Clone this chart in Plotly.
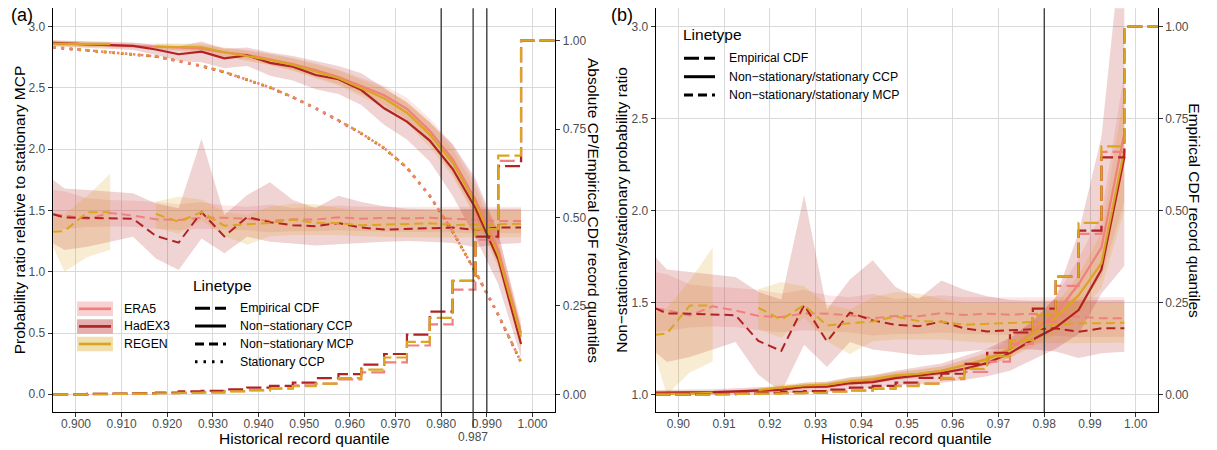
import plotly.graph_objects as go

# ---------------- data ----------------
QX = [0.895, 0.8975, 0.9025, 0.9075, 0.9125, 0.9175, 0.9225, 0.9275, 0.9325, 0.9375, 0.9425,
      0.9475, 0.9525, 0.9575, 0.9625, 0.9675, 0.9725, 0.9775, 0.9825, 0.9875, 0.9925, 0.9975]
CDF_X = QX + [1.005]

SERIES = ["ERA5", "HadEX3", "REGEN"]
COLORS = {"ERA5": (240, 128, 128), "HadEX3": (178, 34, 34), "REGEN": (218, 165, 32)}

# Empirical CDF of record quantiles
CDF_ERA5 = [0.0, 0.0, 0.001, 0.001, 0.002, 0.003, 0.004, 0.006, 0.009, 0.012, 0.017, 0.025, 0.030, 0.042,
            0.062, 0.090, 0.138, 0.198, 0.296, 0.437, 0.660, 1.0, 1.0]
CDF_HADEX3 = [0.0, 0.0, 0.001, 0.002, 0.003, 0.005, 0.008, 0.010, 0.014, 0.019, 0.024, 0.033, 0.046, 0.057,
              0.084, 0.114, 0.169, 0.234, 0.321, 0.446, 0.645, 1.0, 1.0]
CDF_REGEN = [0.0, 0.0, 0.0, 0.001, 0.002, 0.003, 0.004, 0.005, 0.008, 0.011, 0.016, 0.023, 0.030, 0.046,
             0.070, 0.104, 0.148, 0.216, 0.321, 0.467, 0.675, 1.0, 1.0]

# Non-stationary / stationary MCP ratio (shared by both panels)
MCP_ERA5 = [1.469, 1.460, 1.430, 1.480, 1.458, 1.428, 1.422, 1.442, 1.440, 1.432, 1.415, 1.428, 1.426, 1.444,
            1.433, 1.440, 1.435, 1.440, 1.433, 1.424, 1.415, 1.415]
MCP_HADEX3 = [1.469, 1.442, 1.440, 1.438, 1.432, 1.292, 1.238, 1.487, 1.289, 1.446, 1.404, 1.380, 1.372, 1.397,
              1.361, 1.344, 1.348, 1.356, 1.361, 1.342, 1.361, 1.361]
MCP_REGEN = [1.326, 1.333, 1.485, 1.485, None, 1.472, 1.408, 1.487, 1.376, 1.388, 1.398, 1.425, 1.400, 1.397,
             1.380, 1.385, 1.390, 1.395, 1.382, 1.388, 1.388, 1.391]
MCP_ERA5_LO = [1.340, 1.350, 1.365, 1.370, 1.368, 1.350, 1.340, 1.350, 1.345, 1.338, 1.322, 1.330, 1.330, 1.338,
               1.330, 1.330, 1.328, 1.322, 1.320, 1.312, 1.312, 1.315]
MCP_ERA5_HI = [1.667, 1.655, 1.600, 1.586, 1.580, 1.570, 1.550, 1.570, 1.540, 1.530, 1.548, 1.520, 1.530, 1.540,
               1.530, 1.530, 1.528, 1.530, 1.530, 1.528, 1.528, 1.530]
MCP_HADEX3_LO = [1.230, 1.178, 1.205, 1.245, 1.286, 1.109, 1.014, 1.272, 1.150, 1.286, 1.245, 1.230, 1.215, 1.220,
                 1.235, 1.245, 1.250, 1.245, 1.235, 1.200, 1.225, 1.234]
MCP_HADEX3_HI = [1.748, 1.680, 1.667, 1.653, 1.640, 1.558, 1.518, 2.085, 1.463, 1.626, 1.730, 1.585, 1.520, 1.620,
                 1.570, 1.535, 1.515, 1.510, 1.510, 1.510, 1.510, 1.514]
MCP_REGEN_LO = [1.200, 1.000, 1.120, 1.180, None, 1.355, 1.310, 1.420, 1.290, 1.220, 1.290, 1.300, 1.300, 1.300,
                1.290, 1.282, 1.280, 1.280, 1.280, 1.280, 1.280, 1.282]
MCP_REGEN_HI = [1.450, 1.470, 1.620, 1.800, None, 1.573, 1.613, 1.590, 1.490, 1.463, 1.530, 1.558, 1.550, 1.520,
                1.500, 1.500, 1.500, 1.500, 1.500, 1.500, 1.500, 1.500]

# Panel (a): non-stationary CCP relative to stationary MCP
CCPA_ERA5 = [2.865, 2.862, 2.857, 2.852, 2.848, 2.838, 2.830, 2.820, 2.790, 2.770, 2.735, 2.695, 2.645, 2.590,
             2.515, 2.440, 2.330, 2.150, 1.920, 1.590, 1.180, 0.500]
CCPA_HADEX3 = [2.868, 2.863, 2.855, 2.850, 2.844, 2.814, 2.775, 2.796, 2.742, 2.765, 2.705, 2.674, 2.606, 2.571,
               2.483, 2.334, 2.225, 2.070, 1.840, 1.520, 1.100, 0.410]
CCPA_REGEN = [2.862, 2.860, 2.858, 2.858, None, 2.836, 2.832, 2.832, 2.791, 2.761, 2.728, 2.688, 2.633, 2.579,
              2.497, 2.416, 2.298, 2.120, 1.890, 1.560, 1.140, 0.470]
CCPA_ERA5_LO = [2.845, 2.842, 2.837, 2.832, 2.826, 2.815, 2.805, 2.790, 2.755, 2.730, 2.690, 2.645, 2.590, 2.530,
                2.450, 2.360, 2.240, 2.050, 1.800, 1.460, 1.060, 0.400]
CCPA_ERA5_HI = [2.885, 2.882, 2.877, 2.872, 2.870, 2.862, 2.855, 2.850, 2.825, 2.810, 2.780, 2.745, 2.700, 2.650,
                2.580, 2.520, 2.420, 2.250, 2.040, 1.720, 1.300, 0.600]
CCPA_HADEX3_LO = [2.840, 2.835, 2.830, 2.820, 2.810, 2.770, 2.720, 2.710, 2.660, 2.680, 2.600, 2.560, 2.490, 2.450,
                  2.360, 2.200, 2.080, 1.900, 1.620, 1.280, 0.900, 0.300]
CCPA_HADEX3_HI = [2.890, 2.885, 2.880, 2.875, 2.870, 2.850, 2.840, 2.880, 2.820, 2.830, 2.790, 2.760, 2.720, 2.680,
                  2.620, 2.500, 2.380, 2.220, 2.040, 1.760, 1.320, 0.550]
CCPA_REGEN_LO = [2.840, 2.838, 2.836, 2.835, None, 2.810, 2.805, 2.800, 2.755, 2.720, 2.685, 2.640, 2.580, 2.520,
                 2.430, 2.340, 2.210, 2.020, 1.780, 1.440, 1.030, 0.380]
CCPA_REGEN_HI = [2.885, 2.882, 2.880, 2.880, None, 2.862, 2.860, 2.862, 2.830, 2.805, 2.775, 2.740, 2.690, 2.640,
                 2.565, 2.495, 2.390, 2.220, 2.000, 1.680, 1.250, 0.560]

# Panel (a): stationary CCP relative to stationary MCP
STAT_ERA5 = [2.832, 2.824, 2.810, 2.795, 2.780, 2.758, 2.720, 2.680, 2.630, 2.570, 2.505, 2.425, 2.335, 2.235,
             2.130, 2.010, 1.850, 1.620, 1.330, 1.000, 0.650, 0.262]
STAT_HADEX3 = [2.830, 2.822, 2.808, 2.793, 2.778, 2.756, 2.718, 2.678, 2.628, 2.568, 2.503, 2.423, 2.333, 2.233,
               2.128, 2.008, 1.848, 1.618, 1.328, 0.998, 0.648, 0.260]
STAT_REGEN = [2.833, 2.825, 2.811, 2.796, 2.781, 2.759, 2.721, 2.681, 2.631, 2.571, 2.506, 2.426, 2.336, 2.236,
              2.131, 2.011, 1.851, 1.621, 1.331, 1.001, 0.651, 0.263]

# Panel (b): non-stationary / stationary CCP ratio
CCPB_ERA5 = [1.008, 1.008, 1.009, 1.012, 1.015, 1.022, 1.030, 1.040, 1.050, 1.068, 1.080, 1.100, 1.112, 1.130,
             1.160, 1.195, 1.250, 1.340, 1.440, 1.600, 1.800, 2.420]
CCPB_HADEX3 = [1.011, 1.011, 1.012, 1.014, 1.018, 1.022, 1.026, 1.043, 1.044, 1.062, 1.068, 1.090, 1.102, 1.118,
               1.140, 1.172, 1.225, 1.300, 1.365, 1.460, 1.680, 2.290]
CCPB_REGEN = [1.005, 1.005, 1.006, 1.010, None, 1.025, 1.040, 1.050, 1.055, 1.073, 1.085, 1.105, 1.113, 1.130,
              1.158, 1.190, 1.245, 1.330, 1.420, 1.540, 1.714, 2.330]
CCPB_ERA5_LO = [1.000, 1.000, 1.002, 1.005, 1.008, 1.012, 1.018, 1.028, 1.035, 1.050, 1.060, 1.080, 1.090, 1.105,
                1.130, 1.160, 1.200, 1.280, 1.360, 1.480, 1.640, 2.050]
CCPB_ERA5_HI = [1.015, 1.016, 1.017, 1.020, 1.025, 1.032, 1.042, 1.053, 1.065, 1.085, 1.100, 1.120, 1.135, 1.155,
                1.190, 1.230, 1.300, 1.400, 1.530, 1.740, 1.980, 2.750]
CCPB_HADEX3_LO = [1.000, 1.000, 1.000, 1.002, 1.005, 1.005, 1.005, 1.015, 1.015, 1.030, 1.035, 1.050, 1.055, 1.065,
                  1.080, 1.100, 1.130, 1.190, 1.250, 1.330, 1.550, 1.700]
CCPB_HADEX3_HI = [1.025, 1.025, 1.028, 1.030, 1.035, 1.040, 1.045, 1.065, 1.070, 1.095, 1.105, 1.130, 1.150, 1.170,
                  1.210, 1.250, 1.310, 1.400, 1.530, 1.880, 2.400, 3.600]
CCPB_REGEN_LO = [1.000, 1.000, 1.000, 1.003, None, 1.012, 1.025, 1.035, 1.040, 1.055, 1.065, 1.085, 1.092, 1.108,
                 1.130, 1.160, 1.200, 1.260, 1.330, 1.440, 1.580, 2.000]
CCPB_REGEN_HI = [1.012, 1.012, 1.013, 1.018, None, 1.038, 1.055, 1.065, 1.072, 1.092, 1.105, 1.125, 1.135, 1.152,
                 1.185, 1.220, 1.280, 1.370, 1.490, 1.650, 1.880, 2.650]

# vertical reference lines
VLINES_A = [0.980, 0.987, 0.990]
VLINES_B = [0.980]
EXTRA_TICK = 0.987

# ticks
XTICKS_A = [0.900, 0.910, 0.920, 0.930, 0.940, 0.950, 0.960, 0.970, 0.980, 0.990, 1.000]
XTICKS_B = [0.90, 0.91, 0.92, 0.93, 0.94, 0.95, 0.96, 0.97, 0.98, 0.99, 1.00]
YTICKS_A = [0.0, 0.5, 1.0, 1.5, 2.0, 2.5, 3.0]
YTICKS_B = [1.0, 1.5, 2.0, 2.5, 3.0]
Y2TICKS = [0.00, 0.25, 0.50, 0.75, 1.00]

# ---------------- helpers ----------------
FONT = "Liberation Sans, Arial, sans-serif"
W, H = 1217, 450


def rgba(name, a):
    r, g, b = COLORS[name]
    return f"rgba({r},{g},{b},{a})"


def px_x(p):
    return p / W


def px_y(p):
    return (H - p) / H


fig = go.Figure()


def ribbon(x, lo, hi, name, xa, ya):
    segs, cur = [], []
    for xi, l, h in zip(x, lo, hi):
        if l is None or h is None:
            if cur:
                segs.append(cur)
            cur = []
        else:
            cur.append((xi, l, h))
    if cur:
        segs.append(cur)
    for s in segs:
        xs = [p[0] for p in s] + [p[0] for p in reversed(s)]
        ys = [p[2] for p in s] + [p[1] for p in reversed(s)]
        fig.add_trace(go.Scatter(x=xs, y=ys, mode="lines", fill="toself",
                                 fillcolor=rgba(name, 0.2), line=dict(width=0),
                                 hoverinfo="skip", showlegend=False, xaxis=xa, yaxis=ya))


def line(x, y, name, dash, xa, ya, width=2.0, shape="linear"):
    fig.add_trace(go.Scatter(x=x, y=y, mode="lines",
                             line=dict(color=rgba(name, 1), width=width, dash=dash, shape=shape),
                             hoverinfo="skip", showlegend=False, xaxis=xa, yaxis=ya))


MCP = {"ERA5": (MCP_ERA5, MCP_ERA5_LO, MCP_ERA5_HI),
       "HadEX3": (MCP_HADEX3, MCP_HADEX3_LO, MCP_HADEX3_HI),
       "REGEN": (MCP_REGEN, MCP_REGEN_LO, MCP_REGEN_HI)}
CCPA = {"ERA5": (CCPA_ERA5, CCPA_ERA5_LO, CCPA_ERA5_HI),
        "HadEX3": (CCPA_HADEX3, CCPA_HADEX3_LO, CCPA_HADEX3_HI),
        "REGEN": (CCPA_REGEN, CCPA_REGEN_LO, CCPA_REGEN_HI)}
CCPB = {"ERA5": (CCPB_ERA5, CCPB_ERA5_LO, CCPB_ERA5_HI),
        "HadEX3": (CCPB_HADEX3, CCPB_HADEX3_LO, CCPB_HADEX3_HI),
        "REGEN": (CCPB_REGEN, CCPB_REGEN_LO, CCPB_REGEN_HI)}
STAT = {"ERA5": STAT_ERA5, "HadEX3": STAT_HADEX3, "REGEN": STAT_REGEN}
CDF = {"ERA5": CDF_ERA5, "HadEX3": CDF_HADEX3, "REGEN": CDF_REGEN}

DASH_MCP = "9px,5px"
DASH_CDF = "15px,5px"
DASH_DOT = "2.5px,6px"
DOT_STYLE = {"HadEX3": "2.5px,6px", "REGEN": "2.5px,6px", "ERA5": "2.5px,5.5px"}

# ---------------- panel (a) ----------------
for s in SERIES:
    ribbon(QX, MCP[s][1], MCP[s][2], s, "x", "y")
for s in SERIES:
    ribbon(QX, CCPA[s][1], CCPA[s][2], s, "x", "y")
for s in SERIES:
    line(QX, MCP[s][0], s, DASH_MCP, "x", "y")
for s in SERIES:
    line(QX, CCPA[s][0], s, "solid", "x", "y", width=2.2)
for s in ["HadEX3", "REGEN", "ERA5"]:
    line(QX, STAT[s], s, DOT_STYLE[s], "x", "y", width=2.6)
for s in SERIES:
    line(CDF_X, CDF[s], s, DASH_CDF, "x", "y2", width=2.2, shape="hv")

# ---------------- panel (b) ----------------
for s in SERIES:
    ribbon(QX, MCP[s][1], MCP[s][2], s, "x2", "y3")
for s in SERIES:
    ribbon(QX, CCPB[s][1], CCPB[s][2], s, "x2", "y3")
for s in SERIES:
    line(QX, MCP[s][0], s, DASH_MCP, "x2", "y3")
for s in SERIES:
    line(QX, CCPB[s][0], s, "solid", "x2", "y3", width=2.2)
for s in SERIES:
    line(CDF_X, CDF[s], s, DASH_CDF, "x2", "y4", width=2.2, shape="hv")

# ---------------- axes ----------------
GRID = "#d9d9d9"
TICKFONT = dict(family=FONT, size=12, color="#4d4d4d")
YDOM = [px_y(412.3), px_y(8.3)]
common = dict(showline=True, linecolor="black", linewidth=1.2, ticks="outside", ticklen=4,
              tickcolor="#333333", tickwidth=1, tickfont=TICKFONT, zeroline=False)

fig.update_layout(
    width=W, height=H, margin=dict(l=0, r=0, t=0, b=0),
    paper_bgcolor="white", plot_bgcolor="white", showlegend=False,
    font=dict(family=FONT),
    xaxis=dict(domain=[px_x(52.7), px_x(555.3)], range=[0.8949, 1.0050], anchor="y",
               tickmode="array", tickvals=XTICKS_A, ticktext=[f"{v:.3f}" for v in XTICKS_A],
               ticklabelstandoff=-4,
               showgrid=True, gridcolor=GRID, gridwidth=1.2, **common),
    yaxis=dict(domain=YDOM, range=[-0.147, 3.150], anchor="x",
               tickmode="array", tickvals=YTICKS_A, ticktext=[f"{v:.1f}" for v in YTICKS_A],
               showgrid=True, gridcolor=GRID, gridwidth=1.2, **common),
    yaxis2=dict(overlaying="y", side="right", anchor="x", range=[-0.0509, 1.0915],
                tickmode="array", tickvals=Y2TICKS, ticktext=[f"{v:.2f}" for v in Y2TICKS],
                showgrid=False, **common),
    xaxis2=dict(domain=[px_x(655.7), px_x(1157.7)], range=[0.89505, 1.0048], anchor="y3",
                tickmode="array", tickvals=XTICKS_B, ticktext=[f"{v:.2f}" for v in XTICKS_B],
                ticklabelstandoff=-4,
                showgrid=True, gridcolor=GRID, gridwidth=1.2, **common),
    yaxis3=dict(domain=YDOM, range=[0.9043, 3.1], anchor="x2",
                tickmode="array", tickvals=YTICKS_B, ticktext=[f"{v:.1f}" for v in YTICKS_B],
                showgrid=True, gridcolor=GRID, gridwidth=1.2, **common),
    yaxis4=dict(overlaying="y3", side="right", anchor="x2", range=[-0.0478, 1.05],
                tickmode="array", tickvals=Y2TICKS, ticktext=[f"{v:.2f}" for v in Y2TICKS],
                showgrid=False, **common),
)

shapes = []
for v in VLINES_A:
    y_bottom = px_y(428) if v == EXTRA_TICK else px_y(412.3)
    shapes.append(dict(type="line", xref="x", yref="paper", x0=v, x1=v, y0=y_bottom, y1=px_y(8.3),
                       line=dict(color="#333333", width=1.3), layer="above"))
for v in VLINES_B:
    shapes.append(dict(type="line", xref="x2", yref="y3 domain", x0=v, x1=v, y0=0, y1=1,
                       line=dict(color="#333333", width=1.3), layer="above"))

annots = []


def text(x, y, t, size=12, color="black", xanchor="center", angle=0):
    annots.append(dict(x=px_x(x), y=px_y(y), xref="paper", yref="paper", text=t, showarrow=False,
                       xanchor=xanchor, yanchor="middle", textangle=angle,
                       font=dict(family=FONT, size=size, color=color)))


# axis titles
text(304, 438.3, "Historical record quantile", size=15.5)
text(906.7, 438.3, "Historical record quantile", size=15.5)
text(19, 210.3, "Probability ratio relative to stationary MCP", size=15.5, angle=-90)
text(593.3, 210.3, "Absolute CP/Empirical CDF record quantiles", size=15.5, angle=90)
text(621.5, 210.3, "Non\u2212stationary/stationary probability ratio", size=15.5, angle=-90)
text(1195, 210.3, "Empirical CDF record quantiles", size=15.5, angle=90)
# panel labels
text(21.5, 15, "(a)", size=18)
text(621.5, 15, "(b)", size=18)
# extra tick label
annots.append(dict(x=EXTRA_TICK, y=px_y(436.7), xref="x", yref="paper", text=f"{EXTRA_TICK:.3f}",
                   showarrow=False, xanchor="center", yanchor="middle", font=TICKFONT))

# legend (a): colour keys
rows_a = [308.8, 326.4, 344.0]
for s, yc in zip(SERIES, rows_a):
    shapes.append(dict(type="rect", xref="paper", yref="paper", x0=px_x(77), x1=px_x(113),
                       y0=px_y(yc + 7.2), y1=px_y(yc - 7.2), fillcolor=rgba(s, 0.36),
                       line=dict(width=0), layer="above"))
    shapes.append(dict(type="line", xref="paper", yref="paper", x0=px_x(79), x1=px_x(111),
                       y0=px_y(yc), y1=px_y(yc), line=dict(color=rgba(s, 1), width=2.7), layer="above"))
    text(121.7, yc, s, size=12.3, xanchor="left")

# legend (a): linetype
LT_A = [("Empirical CDF", DASH_CDF), ("Non\u2212stationary CCP", "solid"),
        ("Non\u2212stationary MCP", DASH_MCP), ("Stationary CCP", DASH_DOT)]
text(191, 285, "Linetype", size=15.5, xanchor="left")
for (lab, d), yc in zip(LT_A, [308.3, 326.0, 344.0, 361.7]):
    shapes.append(dict(type="line", xref="paper", yref="paper", x0=px_x(195), x1=px_x(226),
                       y0=px_y(yc), y1=px_y(yc), line=dict(color="black", width=3, dash=d), layer="above"))
    text(237.7, yc, lab, size=12.3, xanchor="left")

# legend (b): linetype
LT_B = [("Empirical CDF", DASH_CDF), ("Non\u2212stationary/stationary CCP", "solid"),
        ("Non\u2212stationary/stationary MCP", DASH_MCP)]
text(680.7, 35, "Linetype", size=15.5, xanchor="left")
for (lab, d), yc in zip(LT_B, [58.3, 76.7, 95.0]):
    shapes.append(dict(type="line", xref="paper", yref="paper", x0=px_x(684), x1=px_x(715),
                       y0=px_y(yc), y1=px_y(yc), line=dict(color="black", width=3, dash=d), layer="above"))
    text(726.7, yc, lab, size=12.3, xanchor="left")

fig.update_layout(shapes=shapes, annotations=annots)
fig.write_html("out.html")
